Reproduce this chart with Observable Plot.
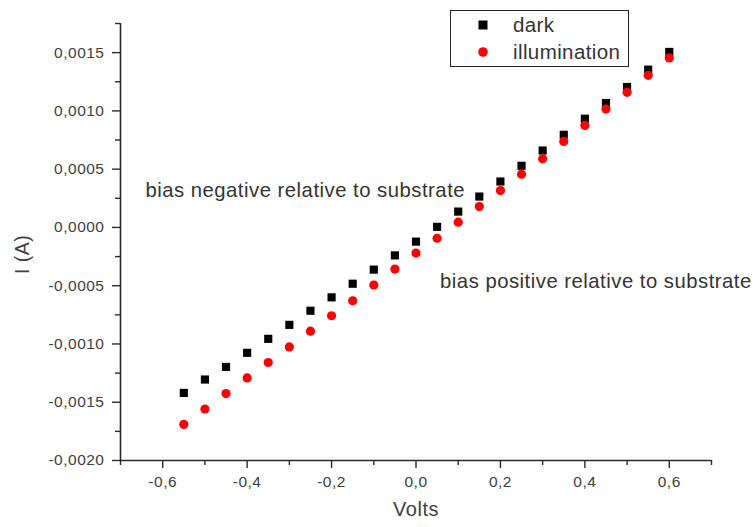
<!DOCTYPE html>
<html>
<head>
<meta charset="utf-8">
<script src="https://cdn.jsdelivr.net/npm/d3@7"></script>
<script src="https://cdn.jsdelivr.net/npm/@observablehq/plot@0.6"></script>
<style>
  html, body { margin: 0; padding: 0; background: #fff; }
  #wrap { position: relative; width: 753px; height: 527px; font-family: "Liberation Sans", Arial, sans-serif; }
  #legend { position: absolute; left: 450px; top: 10px; width: 179px; height: 57px; border: 1.5px solid #222; background: #fff; box-sizing: border-box; }
  .item { position: absolute; left: 0; height: 24px; display: flex; align-items: center; font-size: 20.5px; color: #333; letter-spacing: 0.4px; }
  .item svg { margin-left: 27px; margin-right: 25px; }
</style>
</head>
<body>
<div id="wrap"></div>
<script>
const voltage = [-0.55,-0.50,-0.45,-0.40,-0.35,-0.30,-0.25,-0.20,-0.15,-0.10,-0.05,0.00,0.05,0.10,0.15,0.20,0.25,0.30,0.35,0.40,0.45,0.50,0.55,0.60];
const darkCurrent = [-0.001420,-0.001305,-0.001197,-0.001076,-0.000956,-0.000836,-0.000715,-0.000600,-0.000483,-0.000362,-0.000240,-0.000122,0.000005,0.000136,0.000265,0.000394,0.000529,0.000660,0.000795,0.000933,0.001068,0.001205,0.001354,0.001506];
const illumCurrent = [-0.001690,-0.001558,-0.001426,-0.001291,-0.001159,-0.001025,-0.000890,-0.000758,-0.000629,-0.000494,-0.000357,-0.000220,-0.000093,0.000045,0.000179,0.000316,0.000457,0.000589,0.000738,0.000875,0.001016,0.001159,0.001305,0.001455];
const seriesNames = ["dark", "illumination"];
const xTicks = [-0.6,-0.4,-0.2,0,0.2,0.4,0.6];
const xMinorTicks = [-0.7,-0.5,-0.3,-0.1,0.1,0.3,0.5,0.7];
const yTicks = [-0.0020,-0.0015,-0.0010,-0.0005,0,0.0005,0.0010,0.0015];
const yMinorTicks = [-0.00175,-0.00125,-0.00075,-0.00025,0.00025,0.00075,0.00125,0.00175];
const annotations = [
  {text: "bias negative relative to substrate", v: -0.641, i: 0.000314},
  {text: "bias positive relative to substrate", v: 0.057, i: -0.000466}
];

const darkData = voltage.map((v, k) => ({v, i: darkCurrent[k]}));
const illumData = voltage.map((v, k) => ({v, i: illumCurrent[k]}));
const comma = s => s.replace(".", ",").replace("−", "-");
const fmtY = d => comma(d3.format(".4f")(d));
const fmtX = d => comma(d3.format(".1f")(d));
const axisColor = "#2a2a2a";
const textColor = "#404040";

const chart = Plot.plot({
  width: 753,
  height: 527,
  marginLeft: 120,
  marginRight: 42,
  marginTop: 23,
  marginBottom: 67,
  style: {fontFamily: "'Liberation Sans', Arial, sans-serif", background: "#fff", color: textColor},
  x: {domain: [-0.7, 0.7]},
  y: {domain: [-0.002, 0.00175]},
  marks: [
    Plot.ruleX([-0.7], {stroke: axisColor, strokeWidth: 1.6}),
    Plot.ruleY([-0.002], {stroke: axisColor, strokeWidth: 1.6}),
    Plot.axisY(yTicks, {tickSize: 8, tickPadding: 8, tickFormat: fmtY, fontSize: 15.5, stroke: axisColor, strokeWidth: 1.4, fill: textColor, label: null}),
    Plot.axisY(yMinorTicks, {tickSize: 5, tickFormat: () => "", stroke: axisColor, strokeWidth: 1.4, label: null}),
    Plot.axisX(xTicks, {tickSize: 8, tickPadding: 7, tickFormat: fmtX, fontSize: 15.5, stroke: axisColor, strokeWidth: 1.4, fill: textColor, label: null}),
    Plot.axisX(xMinorTicks, {tickSize: 5, tickFormat: () => "", stroke: axisColor, strokeWidth: 1.4, label: null}),
    Plot.text(["Volts"], {frameAnchor: "bottom", dy: 55, fontSize: 20, fill: textColor}),
    Plot.text(["I (A)"], {frameAnchor: "left", dx: -98, dy: 32, rotate: -90, fontSize: 19.5, fill: textColor}),
    Plot.dot(darkData, {x: "v", y: "i", symbol: "square", r: 4.6, fill: "#000", stroke: null}),
    Plot.dot(illumData, {x: "v", y: "i", symbol: "circle", r: 4.6, fill: "#ff0000", stroke: null}),
    Plot.text(annotations, {x: "v", y: "i", text: "text", textAnchor: "start", fontSize: 20.3, fill: "#333"})
  ]
});
chart.style.letterSpacing = "0.5px";
const wrap = document.getElementById("wrap");
wrap.appendChild(chart);

const legend = document.createElement("div");
legend.id = "legend";
const sym = {
  dark: '<svg width="10" height="10"><rect x="0.5" y="0.5" width="9" height="9" fill="#000"/></svg>',
  illumination: '<svg width="10" height="10"><circle cx="5" cy="5" r="4.8" fill="#ff0000"/></svg>'
};
seriesNames.forEach((name, k) => {
  const it = document.createElement("div");
  it.className = "item";
  it.style.top = (2 + k * 27) + "px";
  it.innerHTML = sym[name] + "<span>" + name + "</span>";
  legend.appendChild(it);
});
wrap.appendChild(legend);
</script>
</body>
</html>
